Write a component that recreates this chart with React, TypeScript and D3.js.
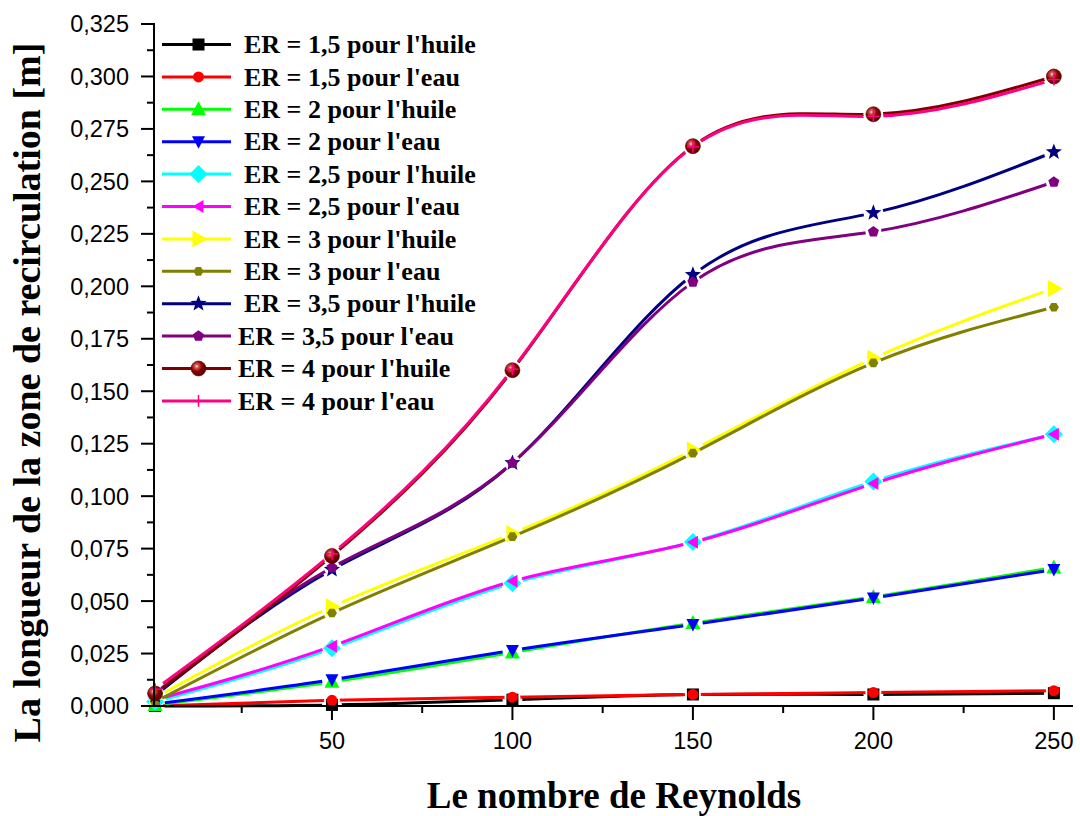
import React from "react";
import * as d3 from "d3";

// Reynolds numbers at which the recirculation length was computed
const reynolds = [1, 50, 100, 150, 200, 250];

// Recirculation length [m] for each expansion ratio and fluid
const er15Huile = [0, 0.0005, 0.003, 0.0055, 0.0055, 0.0061];
const er15Eau = [0, 0.0027, 0.0042, 0.0055, 0.0064, 0.0073];
const er2Huile = [0.0005, 0.0115, 0.0255, 0.0395, 0.052, 0.066];
const er2Eau = [0.001, 0.0125, 0.0265, 0.0388, 0.0515, 0.065];
const er25Huile = [0.002, 0.0275, 0.0585, 0.0782, 0.107, 0.1295];
const er25Eau = [0.003, 0.0285, 0.0595, 0.078, 0.106, 0.1295];
const er3Huile = [0.004, 0.0473, 0.0822, 0.122, 0.1657, 0.199];
const er3Eau = [0.002, 0.0443, 0.0807, 0.1205, 0.1635, 0.19];
const er35Huile = [0.005, 0.065, 0.1158, 0.2055, 0.235, 0.264];
const er35Eau = [0.006, 0.066, 0.1158, 0.202, 0.226, 0.2497];
const er4Huile = [0.006, 0.0715, 0.16, 0.2668, 0.282, 0.3];
const er4Eau = [0.008, 0.0725, 0.1605, 0.2665, 0.281, 0.2985];

const seriesNames = [
  "ER = 1,5 pour l'huile",
  "ER = 1,5 pour l'eau",
  "ER = 2 pour l'huile",
  "ER = 2 pour l'eau",
  "ER = 2,5 pour l'huile",
  "ER = 2,5 pour l'eau",
  "ER = 3 pour l'huile",
  "ER = 3 pour l'eau",
  "ER = 3,5 pour l'huile",
  "ER = 3,5 pour l'eau",
  "ER = 4 pour l'huile",
  "ER = 4 pour l'eau",
];
const seriesValues = [
  er15Huile, er15Eau, er2Huile, er2Eau, er25Huile, er25Eau,
  er3Huile, er3Eau, er35Huile, er35Eau, er4Huile, er4Eau,
];

const xTicksMajor = [50, 100, 150, 200, 250];
const xTicksMinor = [25, 75, 125, 175, 225];
const yTicksMajor = d3.range(0, 14).map((i) => i * 0.025);
const yTicksMinor = d3.range(0, 13).map((i) => i * 0.025 + 0.0125);

type Sym = "square" | "circle" | "triUp" | "triDown" | "diamond" | "triLeft" | "triRight" | "hexagon" | "star" | "pentagon" | "ball" | "plus";

const styles: { color: string; sym: Sym; gap: number }[] = [
  { color: "#000000", sym: "square", gap: 10 },
  { color: "#ff0000", sym: "circle", gap: 8 },
  { color: "#00ff00", sym: "triUp", gap: 10 },
  { color: "#0000ff", sym: "triDown", gap: 10 },
  { color: "#00ffff", sym: "diamond", gap: 11 },
  { color: "#ff00ff", sym: "triLeft", gap: 10 },
  { color: "#ffff00", sym: "triRight", gap: 11 },
  { color: "#808000", sym: "hexagon", gap: 8 },
  { color: "#000080", sym: "star", gap: 10 },
  { color: "#800080", sym: "pentagon", gap: 8 },
  { color: "#800000", sym: "ball", gap: 10 },
  { color: "#ff0080", sym: "plus", gap: 10 },
];

const W = 1080;
const H = 816;
const left = 154;
const right = 1073;
const top = 24;
const bottom = 706;

const x = d3.scaleLinear().domain([0.7, 255.3]).range([left, right]);
const y = d3.scaleLinear().domain([0, 0.325]).range([bottom, top]);

const fmtY = (v: number) => d3.format(".3f")(v).replace(".", ",");

function polygon(n: number, r: number, rot: number) {
  return d3
    .range(n)
    .map((i) => {
      const a = rot + (i * 2 * Math.PI) / n;
      return `${(r * Math.cos(a)).toFixed(2)},${(r * Math.sin(a)).toFixed(2)}`;
    })
    .join(" ");
}

function starPoints(ro: number, ri: number) {
  return d3
    .range(10)
    .map((i) => {
      const r = i % 2 === 0 ? ro : ri;
      const a = -Math.PI / 2 + (i * Math.PI) / 5;
      return `${(r * Math.cos(a)).toFixed(2)},${(r * Math.sin(a)).toFixed(2)}`;
    })
    .join(" ");
}

function Marker({ sym, color, cx, cy }: { sym: Sym; color: string; cx: number; cy: number }) {
  const t = `translate(${cx},${cy})`;
  switch (sym) {
    case "square":
      return <rect x={cx - 6} y={cy - 6} width={12} height={12} fill={color} />;
    case "circle":
      return <circle cx={cx} cy={cy} r={5.5} fill={color} />;
    case "triUp":
      return <polygon transform={t} points="0,-8 7.5,6 -7.5,6" fill={color} />;
    case "triDown":
      return <polygon transform={t} points="0,7 6.5,-5.5 -6.5,-5.5" fill={color} />;
    case "diamond":
      return <polygon transform={t} points="0,-9 9,0 0,9 -9,0" fill={color} />;
    case "triLeft":
      return <polygon transform={t} points="-6,0 5,-6.5 5,6.5" fill={color} />;
    case "triRight":
      return <polygon transform={t} points="9,0 -6,-8.5 -6,8.5" fill={color} />;
    case "hexagon":
      return <polygon transform={t} points={polygon(6, 5, 0)} fill={color} />;
    case "star":
      return <polygon transform={t} points={starPoints(8.5, 3.6)} fill={color} />;
    case "pentagon":
      return <polygon transform={t} points={polygon(5, 5.8, -Math.PI / 2)} fill={color} />;
    case "ball":
      return <circle cx={cx} cy={cy} r={7.5} fill="url(#ballGrad)" stroke="#5a0000" strokeWidth={0.6} />;
    case "plus":
      return (
        <g stroke={color} strokeWidth={1.5}>
          <line x1={cx - 6} y1={cy} x2={cx + 6} y2={cy} />
          <line x1={cx} y1={cy - 6} x2={cx} y2={cy + 6} />
        </g>
      );
  }
  return null;
}

const legendLineX1 = 162;
const legendLineX2 = 231;
const legendTop = 44.5;
const legendStep = 32.4;

export default function App() {
  const line = d3
    .line<[number, number]>()
    .x((d) => x(d[0]))
    .y((d) => y(d[1]))
    .curve(d3.curveNatural);

  return (
    <svg
      width={W}
      height={H}
      viewBox={`0 0 ${W} ${H}`}
      style={{ position: "absolute", left: 0, top: 0, background: "#ffffff" }}
    >
      <defs>
        <radialGradient id="ballGrad" cx="0.38" cy="0.35" r="0.7">
          <stop offset="0" stopColor="#ffecec" />
          <stop offset="0.16" stopColor="#d26060" />
          <stop offset="0.5" stopColor="#900000" />
          <stop offset="1" stopColor="#4a0000" />
        </radialGradient>
        {seriesValues.map((vals, i) => (
          <mask key={i} id={`gap-${i}`} maskUnits="userSpaceOnUse" x={0} y={0} width={W} height={H}>
            <rect x={0} y={0} width={W} height={H} fill="white" />
            {vals.map((v, j) => (
              <circle key={j} cx={x(reynolds[j])} cy={y(v)} r={styles[i].gap} fill="black" />
            ))}
          </mask>
        ))}
      </defs>

      {/* series: spline through points with a gap at each symbol */}
      {seriesValues.map((vals, i) => {
        const pts = vals.map((v, j) => [reynolds[j], v] as [number, number]);
        return (
          <g key={i}>
            <path
              d={line(pts) || ""}
              fill="none"
              stroke={styles[i].color}
              strokeWidth={3}
              mask={`url(#gap-${i})`}
            />
            {pts.map((p, j) => (
              <Marker key={j} sym={styles[i].sym} color={styles[i].color} cx={x(p[0])} cy={y(p[1])} />
            ))}
          </g>
        );
      })}

      {/* axes */}
      <g stroke="#000" strokeWidth={2}>
        <line x1={left} y1={top - 1} x2={left} y2={bottom + 1} />
        <line x1={left - 1} y1={bottom} x2={right} y2={bottom} />
        {yTicksMajor.map((t) => (
          <line key={`ym${t}`} x1={left - 13} x2={left} y1={y(t)} y2={y(t)} />
        ))}
        {yTicksMinor.map((t) => (
          <line key={`yn${t}`} x1={left - 7} x2={left} y1={y(t)} y2={y(t)} />
        ))}
        {xTicksMajor.map((t) => (
          <line key={`xm${t}`} x1={x(t)} x2={x(t)} y1={bottom} y2={bottom + 14} />
        ))}
        {xTicksMinor.map((t) => (
          <line key={`xn${t}`} x1={x(t)} x2={x(t)} y1={bottom} y2={bottom + 7} />
        ))}
      </g>
      <g fontFamily="Arial, 'Liberation Sans', sans-serif" fontSize={23.5} fill="#000">
        {yTicksMajor.map((t) => (
          <text key={`yl${t}`} x={129} y={y(t)} dy="0.36em" textAnchor="end">
            {fmtY(t)}
          </text>
        ))}
        {xTicksMajor.map((t) => (
          <text key={`xl${t}`} x={x(t)} y={749} textAnchor="middle">
            {t}
          </text>
        ))}
      </g>

      {/* axis titles */}
      <g fontFamily="'Times New Roman', 'Liberation Serif', serif" fontWeight="bold" fill="#000">
        <text x={614} y={808} textAnchor="middle" fontSize={37}>
          Le nombre de Reynolds
        </text>
        <text transform="translate(40,392.5) rotate(-90)" textAnchor="middle" fontSize={38}>
          La longueur de la zone de recirculation [m]
        </text>
      </g>

      {/* legend */}
      <g>
        {seriesNames.map((name, i) => {
          const ly = legendTop + i * legendStep;
          const mx = (legendLineX1 + legendLineX2) / 2 + 2;
          return (
            <g key={name}>
              <line x1={legendLineX1} x2={legendLineX2} y1={ly} y2={ly} stroke={styles[i].color} strokeWidth={3} />
              {styles[i].sym === "plus" ? (
                <line x1={mx} x2={mx} y1={ly - 6} y2={ly + 6} stroke={styles[i].color} strokeWidth={1.5} />
              ) : (
                <Marker sym={styles[i].sym} color={styles[i].color} cx={mx} cy={ly} />
              )}
              <text
                x={i >= 9 ? 238 : 244}
                y={ly + 8.6}
                fontFamily="'Times New Roman', 'Liberation Serif', serif"
                fontWeight="bold"
                fontSize={26}
                fill="#000"
              >
                {name}
              </text>
            </g>
          );
        })}
      </g>
    </svg>
  );
}
